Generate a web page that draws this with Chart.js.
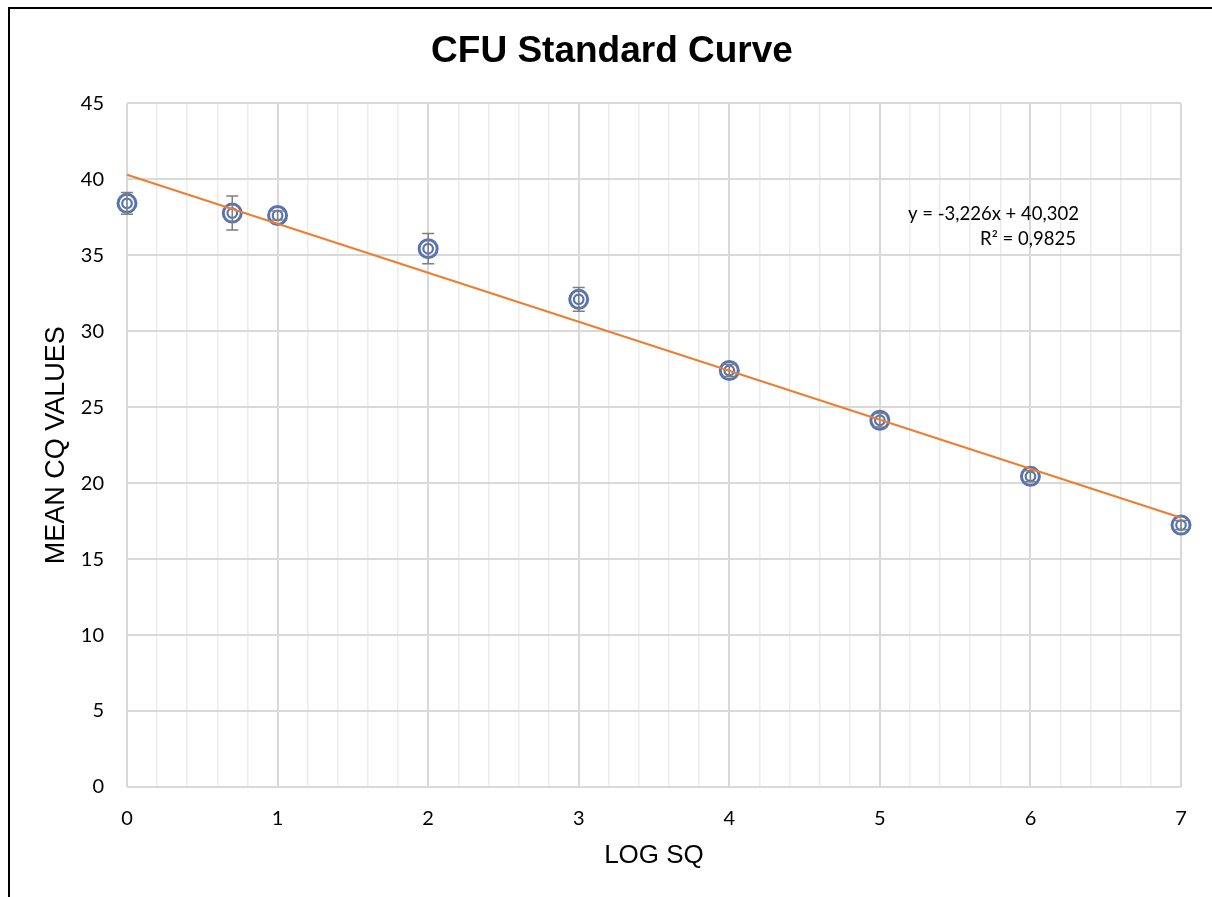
<!DOCTYPE html>
<html>
<head>
<meta charset="utf-8">
<script src="https://cdn.jsdelivr.net/npm/chart.js@4.4.0/dist/chart.umd.min.js"></script>
<style>
  html, body { margin: 0; padding: 0; background: #fff; overflow: hidden; }
  #wrap { position: relative; width: 1212px; height: 897px; }
  #frame { position: absolute; left: 8px; top: 7px; width: 1400px; height: 1100px;
           border: 2px solid #000; box-sizing: border-box; pointer-events: none; }
</style>
</head>
<body>
<div id="wrap">
  <canvas id="c" width="1212" height="897"></canvas>
  <div id="frame"></div>
</div>
<script>
// ---- data ----
const logSQ   = [0, 0.699, 1, 2, 3, 4, 5, 6, 7];
const meanCq  = [38.42, 37.78, 37.62, 35.44, 32.10, 27.42, 24.14, 20.45, 17.24];
const errCq   = [0.72, 1.12, 0.30, 1.00, 0.78, 0.40, 0.45, 0.36, 0.30];
const trendX  = [0, 7];
const trendY  = [40.302, 17.72];
const eqLines = ['y = -3,226x + 40,302', 'R\u00B2 = 0,9825'];
const yTicks  = [0, 5, 10, 15, 20, 25, 30, 35, 40, 45];

const pts = logSQ.map((x, i) => ({ x: x, y: meanCq[i] }));
const trendPts = trendX.map((x, i) => ({ x: x, y: trendY[i] }));

const isInt = v => Math.abs(v - Math.round(v)) < 1e-6;

const errorBars = {
  id: 'errorBars',
  afterDatasetDraw(chart, args) {
    if (args.index !== 1) return;
    const { ctx, scales: { x, y } } = chart;
    ctx.save();
    ctx.strokeStyle = '#7f7f7f';
    ctx.lineWidth = 1.5;
    logSQ.forEach((v, i) => {
      const px = x.getPixelForValue(v);
      const top = y.getPixelForValue(meanCq[i] + errCq[i]);
      const bot = y.getPixelForValue(meanCq[i] - errCq[i]);
      ctx.beginPath();
      ctx.moveTo(px, top); ctx.lineTo(px, bot);
      ctx.moveTo(px - 6, top); ctx.lineTo(px + 6, top);
      ctx.moveTo(px - 6, bot); ctx.lineTo(px + 6, bot);
      ctx.stroke();
    });
    ctx.restore();
  }
};

const equation = {
  id: 'equation',
  afterDraw(chart) {
    const { ctx, scales: { x, y } } = chart;
    ctx.save();
    ctx.font = '18.5px Lato';
    ctx.fillStyle = '#000';
    ctx.textAlign = 'right';
    ctx.textBaseline = 'middle';
    const rx = x.getPixelForValue(6.322);
    ctx.fillText(eqLines[0], rx, y.getPixelForValue(37.7));
    ctx.fillText(eqLines[1], rx - 3, y.getPixelForValue(36.05));
    ctx.restore();
  }
};

new Chart(document.getElementById('c'), {
  type: 'scatter',
  data: {
    datasets: [
      { label: 'outer', data: pts, pointRadius: 9, pointHoverRadius: 9,
        pointBorderWidth: 3, pointBorderColor: '#5874b0', clip: false,
        pointBackgroundColor: 'rgba(0,0,0,0)', order: 3 },
      { label: 'inner', data: pts, pointRadius: 4.8, pointHoverRadius: 4.8,
        pointBorderWidth: 2.2, pointBorderColor: '#5874b0', clip: false,
        pointBackgroundColor: 'rgba(0,0,0,0)', order: 2 },
      { type: 'line', label: 'trend', data: trendPts, borderColor: '#ed7d31',
        borderWidth: 2, pointRadius: 0, fill: false, order: 1, clip: false }
    ]
  },
  options: {
    responsive: false,
    animation: false,
    events: [],
    layout: { padding: { left: 43, right: 31, top: 0, bottom: 0 } },
    plugins: {
      legend: { display: false },
      tooltip: { enabled: false },
      title: {
        display: true, text: 'CFU Standard Curve', color: '#000',
        font: { family: 'Liberation Sans, Arial', size: 37, weight: 'bold' },
        padding: { top: 30, bottom: 29 }
      }
    },
    scales: {
      x: {
        type: 'linear', min: 0, max: 7,
        afterBuildTicks: s => {
          const t = [];
          for (let k = 0; k <= 35; k++) t.push({ value: k / 5 });
          s.ticks = t;
        },
        afterFit: s => { s.height = 110; },
        grid: {
          drawTicks: false,
          color: c => isInt(c.tick.value) ? '#d9d9d9' : '#ececec',
          lineWidth: c => isInt(c.tick.value) ? 2 : 1.5
        },
        border: { display: false },
        ticks: {
          autoSkip: false, maxRotation: 0, padding: 20, color: '#000',
          font: { family: 'Lato', size: 20 },
          callback: v => isInt(v) ? String(Math.round(v)) : ''
        },
        title: {
          display: true, text: 'LOG SQ', color: '#000',
          font: { family: 'Liberation Sans, Arial', size: 26 },
          padding: { top: 0, bottom: 26 }
        }
      },
      y: {
        type: 'linear', min: 0, max: 45,
        afterBuildTicks: s => { s.ticks = yTicks.map(v => ({ value: v })); },
        afterFit: s => { s.width = 84; },
        grid: { drawTicks: false, color: '#d9d9d9', lineWidth: 2 },
        border: { display: false },
        ticks: {
          padding: 23, color: '#000',
          font: { family: 'Lato', size: 20 }
        },
        title: {
          display: true, text: 'MEAN CQ VALUES', color: '#000',
          font: { family: 'Liberation Sans, Arial', size: 27, lineHeight: 1 },
          padding: { top: 0, bottom: 0 }
        }
      }
    }
  },
  plugins: [errorBars, equation]
});
</script>
</body>
</html>
